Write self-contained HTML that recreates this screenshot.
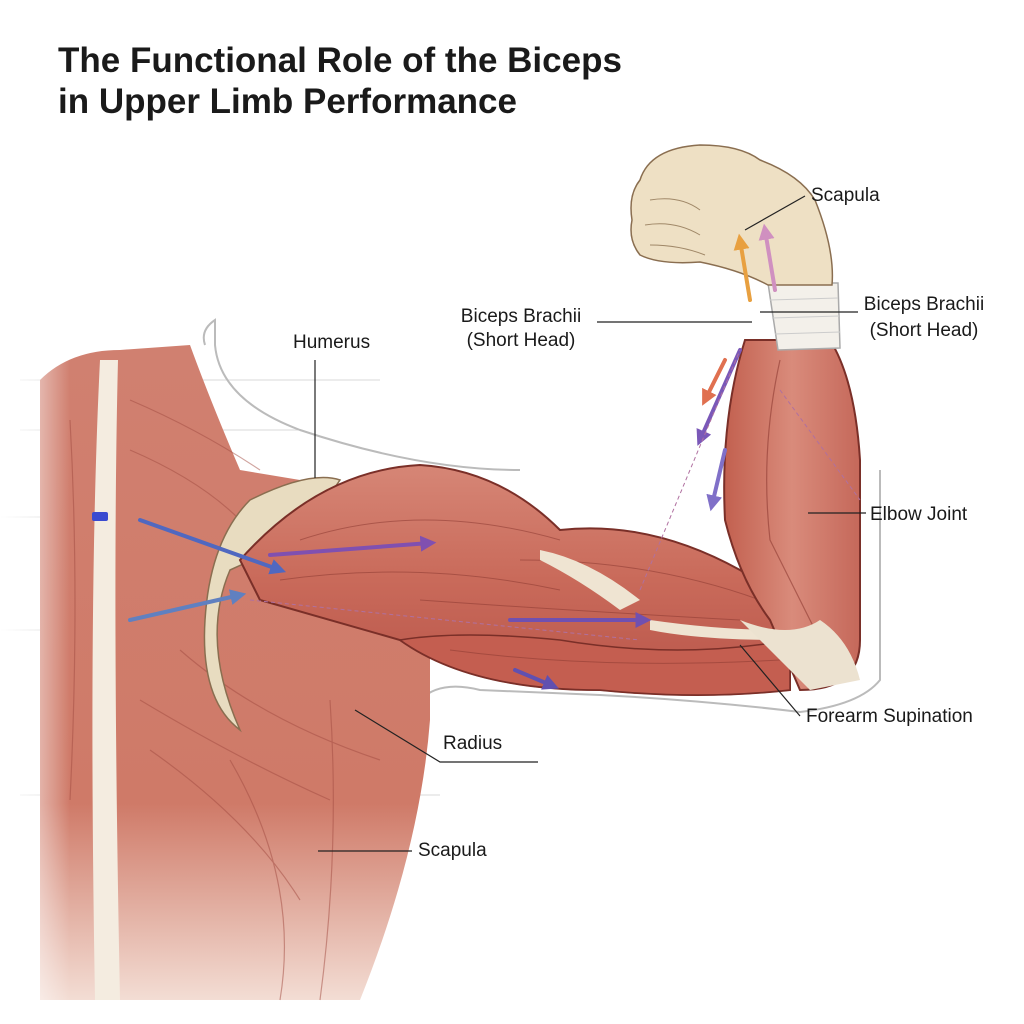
<!DOCTYPE html>
<html><head><meta charset="utf-8"><style>
html,body{margin:0;padding:0;background:#fff;}
svg{display:block}
text{font-family:"Liberation Sans","DejaVu Sans",sans-serif;fill:#1a1a1a}
</style></head><body>
<svg width="1024" height="1024" viewBox="0 0 1024 1024" xmlns="http://www.w3.org/2000/svg">
<defs>
<linearGradient id="tor" x1="0" y1="0" x2="0" y2="1">
<stop offset="0" stop-color="#d08070"/><stop offset="0.7" stop-color="#cf7a68"/><stop offset="1" stop-color="#f3ddd4"/>
</linearGradient>
<linearGradient id="arm" x1="0" y1="0" x2="0" y2="1">
<stop offset="0" stop-color="#d68676"/><stop offset="0.5" stop-color="#c96a5a"/><stop offset="1" stop-color="#b8554a"/>
</linearGradient>
<linearGradient id="fa" x1="0" y1="0" x2="1" y2="0">
<stop offset="0" stop-color="#c2604f"/><stop offset="0.5" stop-color="#d98b7b"/><stop offset="1" stop-color="#c5685a"/>
</linearGradient>
<linearGradient id="lfade" x1="0" y1="0" x2="1" y2="0">
<stop offset="0" stop-color="#fff" stop-opacity="1"/><stop offset="1" stop-color="#fff" stop-opacity="0"/>
</linearGradient>
<marker id="ah" viewBox="0 0 10 10" refX="6" refY="5" markerWidth="4" markerHeight="4" orient="auto"><path d="M0 0L10 5L0 10Z" fill="context-stroke"/></marker>
</defs>
<rect width="1024" height="1024" fill="#fff"/>
<g stroke="#d8d8d8" stroke-width="1">
<line x1="0" y1="517" x2="230" y2="517"/><line x1="0" y1="630" x2="220" y2="630"/>
<line x1="20" y1="380" x2="380" y2="380"/><line x1="20" y1="795" x2="440" y2="795"/>
<line x1="20" y1="430" x2="300" y2="430"/>
</g>
<path d="M205 345 Q200 330 215 320 L215 345 Q220 400 300 430 Q420 470 520 470" fill="none" stroke="#bbb" stroke-width="2"/>
<path d="M420 700 Q440 680 480 690 L600 695 Q700 700 800 712 Q860 705 880 680 L880 470" fill="none" stroke="#bbb" stroke-width="2"/>
<path d="M40 380 Q70 350 120 350 L190 345 Q210 400 240 470 L300 480 L330 560 L430 640 L430 720 Q420 850 360 1000 L40 1000 Z" fill="url(#tor)"/>
<rect x="0" y="350" width="70" height="660" fill="url(#lfade)"/>
<path d="M100 360 Q88 600 95 1000 L120 1000 Q112 600 118 360 Z" fill="#f4ece0"/>
<g stroke="#a24c42" stroke-width="1.2" opacity="0.5" fill="none">
<path d="M130 400 Q200 430 260 470"/><path d="M130 450 Q200 480 240 520"/><path d="M140 700 Q240 760 330 800"/><path d="M150 750 Q250 820 300 900"/><path d="M180 650 Q260 720 380 760"/><path d="M70 420 Q80 600 70 800"/>
<path d="M230 760 Q300 880 280 1000"/><path d="M330 700 Q340 850 320 1000"/>
</g>
<path d="M250 500 Q310 470 340 480 Q300 540 230 570 Q200 640 240 730 Q200 700 205 620 Q210 540 250 500 Z" fill="#e8dcc0" stroke="#8a6e50" stroke-width="1.5"/>
<path d="M240 560 Q320 470 420 465 Q500 470 560 530 Q650 520 740 570 L790 600 L790 690 Q700 700 600 690 Q470 690 400 640 Q330 620 260 600 Z" fill="url(#arm)" stroke="#7a2f28" stroke-width="2"/>
<path d="M400 640 Q470 690 600 690 Q700 700 790 690 L790 640 Q680 660 560 640 Q460 630 400 640Z" fill="#c45e50" stroke="#7a2f28" stroke-width="1.5"/>
<g stroke="#8d3a32" stroke-width="1" opacity="0.55" fill="none">
<path d="M300 540 Q420 500 560 540"/><path d="M280 580 Q420 560 560 590"/><path d="M420 600 Q560 610 740 620"/><path d="M450 650 Q600 670 780 660"/><path d="M520 560 Q650 560 760 600"/>
</g>
<path d="M540 550 Q590 560 640 600 L620 610 Q580 580 540 560 Z" fill="#efe4d2"/>
<path d="M650 620 Q720 630 780 630 L780 640 Q700 640 650 630 Z" fill="#efe4d2"/>
<path d="M745 340 Q720 420 725 520 Q740 580 770 620 L800 690 Q860 690 860 640 L860 460 Q855 380 830 340 Z" fill="url(#fa)" stroke="#7a2f28" stroke-width="2"/>
<path d="M780 360 Q760 450 770 540 Q800 600 820 640" fill="none" stroke="#8d3a32" stroke-width="1.2" opacity="0.6"/>
<path d="M740 620 Q780 660 810 690 L860 680 Q850 640 820 620 Q790 640 740 620Z" fill="#ece2d0"/>
<path d="M768 283 L838 283 L840 348 L778 350 Z" fill="#f3f0ea" stroke="#aaa" stroke-width="1.5"/>
<g stroke="#ccc"><line x1="770" y1="300" x2="838" y2="298"/><line x1="772" y1="318" x2="839" y2="316"/><line x1="775" y1="334" x2="840" y2="332"/></g>
<path d="M640 180 Q650 148 700 145 Q740 145 760 160 Q800 175 815 200 Q835 250 832 285 L768 285 Q740 270 700 262 Q660 265 640 255 Q628 240 632 220 Q628 195 640 180 Z" fill="#eee0c4" stroke="#8a6e50" stroke-width="1.5"/>
<g stroke="#a08868" fill="none" stroke-width="1"><path d="M650 200 Q680 195 700 210"/><path d="M645 225 Q675 220 700 235"/><path d="M650 245 Q680 245 705 255"/></g>
<g fill="none" stroke-width="4" stroke-linecap="round" marker-end="url(#ah)">
<path d="M750 300 L740 240" stroke="#e8a040"/><path d="M775 290 L765 230" stroke="#d090c0"/>
<path d="M740 350 L700 440" stroke="#7a58b8"/><path d="M725 360 L705 400" stroke="#e07050"/>
<path d="M725 450 L712 505" stroke="#8070c8"/>
<path d="M270 555 L430 543" stroke="#8050b0"/>
<path d="M140 520 L280 570" stroke="#5068c0"/>
<path d="M130 620 L240 595" stroke="#6080c0"/>
<path d="M510 620 L645 620" stroke="#7050b0"/>
<path d="M515 670 L553 686" stroke="#6050b0"/>
</g>
<rect x="92" y="512" width="16" height="9" fill="#3a4ad0" rx="2"/>
<g stroke="#b070a0" stroke-dasharray="4 3" fill="none"><path d="M640 590 L740 350"/><path d="M250 600 L640 640"/><path d="M780 390 L860 500"/></g>
<g stroke="#222" stroke-width="1.2" fill="none">
<path d="M805 196 L745 230"/>
<line x1="597" y1="322" x2="752" y2="322"/>
<line x1="760" y1="312" x2="858" y2="312"/>
<line x1="315" y1="360" x2="315" y2="478"/>
<line x1="808" y1="513" x2="866" y2="513"/>
<path d="M740 645 L800 716"/>
<path d="M355 710 L440 762 L538 762"/>
<line x1="318" y1="851" x2="412" y2="851"/>
</g>
<text x="58" y="72" font-size="35" font-weight="bold" style="fill:#1a1a1a">The Functional Role of the Biceps</text>
<text x="58" y="113" font-size="35" font-weight="bold" style="fill:#1a1a1a">in Upper Limb Performance</text>
<g font-size="19">
<text x="811" y="201">Scapula</text>
<text x="521" y="322" text-anchor="middle">Biceps Brachii</text>
<text x="521" y="346" text-anchor="middle">(Short Head)</text>
<text x="924" y="310" text-anchor="middle">Biceps Brachii</text>
<text x="924" y="336" text-anchor="middle">(Short Head)</text>
<text x="293" y="348">Humerus</text>
<text x="870" y="520">Elbow Joint</text>
<text x="806" y="722">Forearm Supination</text>
<text x="443" y="749">Radius</text>
<text x="418" y="856">Scapula</text>
</g>
</svg>
</body></html>
